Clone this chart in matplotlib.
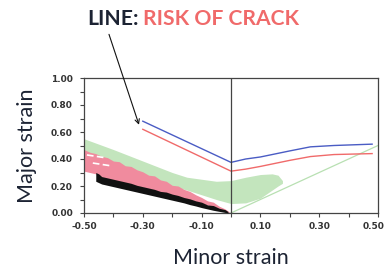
import matplotlib

matplotlib.use("Agg")
import matplotlib.pyplot as plt  # noqa: E402
from matplotlib.transforms import ScaledTranslation  # noqa: E402

# Forming-limit lines (risk of crack)
blue_x = [-0.30, 0.00, 0.05, 0.10, 0.20, 0.27, 0.35, 0.48]
blue_y = [0.68, 0.375, 0.40, 0.415, 0.46, 0.49, 0.50, 0.51]
red_x = [-0.30, 0.00, 0.05, 0.10, 0.20, 0.27, 0.35, 0.48]
red_y = [0.62, 0.31, 0.325, 0.345, 0.39, 0.418, 0.433, 0.44]

# Strain clouds
green_x = [-0.50, -0.40, -0.30, -0.20, -0.15, -0.10, -0.05, 0.00, 0.05, 0.10,
           0.14, 0.16, 0.175]
green_top = [0.55, 0.47, 0.385, 0.30, 0.265, 0.25, 0.235, 0.24, 0.265, 0.285,
             0.29, 0.28, 0.24]
green_bottom = [0.46, 0.37, 0.29, 0.20, 0.17, 0.135, 0.10, 0.07, 0.075, 0.11,
                0.17, 0.20, 0.22]

pink_x = [-0.50, -0.48, -0.46, -0.44, -0.42, -0.40, -0.38, -0.36, -0.34, -0.32,
          -0.30, -0.28, -0.26, -0.24, -0.22, -0.20, -0.18, -0.16, -0.14, -0.12,
          -0.10, -0.08, -0.06, -0.04, -0.02, 0.00]
pink_top = [0.47, 0.45, 0.44, 0.42, 0.41, 0.385, 0.38, 0.35, 0.345, 0.32,
            0.305, 0.28, 0.275, 0.245, 0.235, 0.205, 0.20, 0.175, 0.16, 0.135,
            0.115, 0.09, 0.08, 0.05, 0.03, 0.00]
pink_bottom = [0.31, 0.30, 0.29, 0.26, 0.25, 0.24, 0.23, 0.22, 0.21, 0.20,
               0.19, 0.18, 0.17, 0.155, 0.145, 0.135, 0.125, 0.11, 0.10, 0.085,
               0.07, 0.06, 0.045, 0.03, 0.015, 0.00]

black_x = [-0.46, -0.45, -0.44, -0.42, -0.40, -0.38, -0.36, -0.34, -0.32, -0.30,
           -0.28, -0.26, -0.24, -0.22, -0.20, -0.18, -0.16, -0.14, -0.12, -0.10,
           -0.08, -0.06, -0.04, -0.02, -0.01]
black_top = [0.30, 0.29, 0.27, 0.26, 0.25, 0.24, 0.23, 0.22, 0.205, 0.195,
             0.185, 0.175, 0.16, 0.155, 0.14, 0.13, 0.115, 0.105, 0.09, 0.08,
             0.06, 0.055, 0.035, 0.025, 0.01]
black_bottom = [0.235, 0.225, 0.215, 0.205, 0.195, 0.185, 0.175, 0.165, 0.155, 0.145,
                0.135, 0.125, 0.115, 0.105, 0.095, 0.085, 0.075, 0.062, 0.052, 0.04,
                0.03, 0.02, 0.012, 0.004, 0.001]

# white streaks inside the pink cloud
streak1_x = [-0.49, -0.43]
streak1_y = [0.43, 0.41]
streak2_x = [-0.47, -0.41]
streak2_y = [0.37, 0.35]

# plane-strain guide line on the right
guide_x = [0.00, 0.50]
guide_y = [0.00, 0.50]

x_ticks = [-0.5, -0.4, -0.3, -0.2, -0.1, 0.0, 0.1, 0.2, 0.3, 0.4, 0.5]
x_labels = ["-0.50", "", "-0.30", "", "-0.10", "", "0.10", "", "0.30", "", "0.50"]
y_ticks = [0.0, 0.1, 0.2, 0.3, 0.4, 0.5, 0.6, 0.7, 0.8, 0.9, 1.0]
y_labels = ["0.00", "", "0.20", "", "0.40", "", "0.60", "", "0.80", "", "1.00"]

BLUE = "#4a5cc4"
RED = "#f06a6a"
GREEN = "#c3e5bd"
PINK = "#f08b9e"
INK = "#1c2333"
AXIS = "#444444"

fig = plt.figure(figsize=(3.88, 2.73), dpi=100)
ax = fig.add_axes([84 / 388, 1 - 213 / 273, 294 / 388, 135 / 273])

ax.fill_between(green_x, green_bottom, green_top, color=GREEN, linewidth=0, zorder=1)
ax.fill_between(pink_x, pink_bottom, pink_top, color=PINK, linewidth=0, zorder=2)
ax.fill_between(black_x, black_bottom, black_top, color="#111111",
                linewidth=0, zorder=3)
for sx, sy in ((streak1_x, streak1_y), (streak2_x, streak2_y)):
    ax.plot(sx, sy, color="white", linewidth=1.2, dashes=(4, 2), zorder=3)
ax.plot(guide_x, guide_y, color="#b8e0b2", linewidth=0.9, zorder=2)

ax.plot(blue_x, blue_y, color=BLUE, linewidth=1.0, zorder=4)
ax.plot(red_x, red_y, color=RED, linewidth=1.0, zorder=4)
ax.axvline(0, color=AXIS, linewidth=0.9, zorder=5)

ax.set_xlim(-0.5, 0.5)
ax.set_ylim(0, 1.0)
ax.set_xticks(x_ticks)
ax.set_xticklabels(x_labels)
ax.set_yticks(y_ticks)
ax.set_yticklabels(y_labels)
for side in ax.spines.values():
    side.set_color(AXIS)
    side.set_linewidth(0.9)
ax.tick_params(axis="both", direction="out", length=3, width=0.8, color=AXIS,
               labelsize=6.5, labelcolor="#333333")
ax.tick_params(axis="x", pad=3.5)
ax.tick_params(axis="y", pad=5)
for lab in ax.get_xticklabels() + ax.get_yticklabels():
    lab.set_fontweight("bold")
    lab.set_family("DejaVu Sans")
# the last label sits flush with the right edge of the picture
last = ax.get_xticklabels()[-1]
last.set_transform(last.get_transform() + ScaledTranslation(-3 / 72, 0, fig.dpi_scale_trans))

ax.set_xlabel("Minor strain", family="Lato", fontsize=15.5, color=INK, labelpad=12)
ax.set_ylabel("Major strain", family="Lato", fontsize=15.5, color=INK, labelpad=10)

ax.annotate("", xy=(-0.31, 0.634), xytext=(-0.418, 1.343), xycoords="data",
            textcoords="data", annotation_clip=False,
            arrowprops=dict(arrowstyle="->", color="#111111", lw=0.8,
                            mutation_scale=8))

fig.text(87 / 388, 1 - 25 / 273, "LINE:", family="Lato", fontweight="bold",
         fontsize=15.2, color=INK, va="baseline")
fig.text(143 / 388, 1 - 25 / 273, "RISK OF CRACK", family="Lato", fontweight="bold",
         fontsize=15.2, color=RED, va="baseline")

fig.savefig("out.png", dpi=100, facecolor="white")
